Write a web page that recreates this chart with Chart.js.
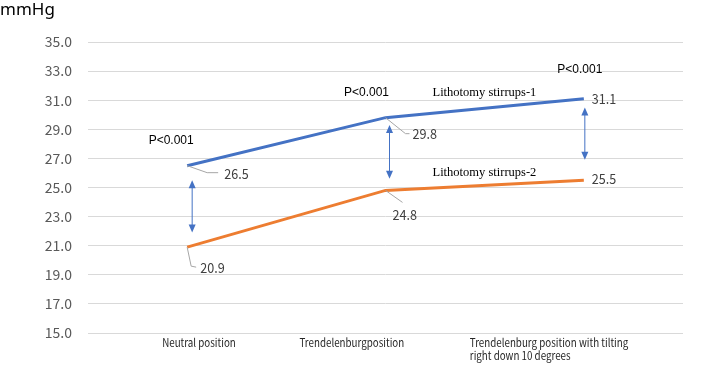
<!DOCTYPE html>
<html>
<head>
<meta charset="utf-8">
<script src="https://cdn.jsdelivr.net/npm/chart.js@4"></script>
<style>
  html, body { margin: 0; padding: 0; background: #fff; }
  #wrap { width: 708px; height: 368px; }
</style>
</head>
<body>
<div id="wrap"><canvas id="chart" width="708" height="368"></canvas></div>
<script>
var categories = ['Neutral position', 'Trendelenburgposition', ['Trendelenburg position with tilting', 'right down 10 degrees']];
var seriesNames = ['Lithotomy stirrups-1', 'Lithotomy stirrups-2'];
var stirrups1 = [26.5, 29.8, 31.1];
var stirrups2 = [20.9, 24.8, 25.5];
var arrowTop = [25.5, 29.3, 30.5];
var arrowBottom = [21.9, 25.6, 26.9];
var pValues = ['P<0.001', 'P<0.001', 'P<0.001'];
var yMin = 15, yMax = 35, yStep = 2;
var unitLabel = 'mmHg';

var BLUE = '#4472C4';
var ORANGE = '#ED7D31';
var JP = '"Noto Sans CJK JP", "Noto Sans", sans-serif';

// leader lines + label offsets (px from the point) for each series / category
var leaders = [
    [ { path: [[0,0],[20,7],[31,7]], lx: 37, ly: 8 },
      { path: [[0,0],[20,16],[24,16]], lx: 27, ly: 16 },
      { path: null, lx: 8, ly: 0 } ],
    [ { path: [[0,0],[4,19],[9,20]], lx: 13, ly: 21 },
      { path: [[0,0],[17,12]], lx: 7, ly: 24 },
      { path: null, lx: 8, ly: -2 } ]
];

function arrowHead(ctx, x, y, dir) {
    ctx.beginPath();
    ctx.moveTo(x, y);
    ctx.lineTo(x - 3.5, y - dir * 8);
    ctx.lineTo(x + 3.5, y - dir * 8);
    ctx.closePath();
    ctx.fill();
}

// draw text squeezed horizontally (source font is narrower than ours)
function narrowText(ctx, txt, x, y, sx) {
    ctx.save();
    ctx.translate(x, y);
    ctx.scale(sx, 1);
    ctx.fillText(txt, 0, 0);
    ctx.restore();
}

var annotations = {
    id: 'annotations',
    afterDatasetsDraw: function(chart) {
        var ctx = chart.ctx;
        var xs = chart.scales.x, ys = chart.scales.y;
        ctx.save();

        // data labels with leader lines
        ctx.font = '14px ' + JP;
        ctx.fillStyle = '#404040';
        ctx.textBaseline = 'middle';
        ctx.textAlign = 'left';
        [stirrups1, stirrups2].forEach(function(series, i) {
            var meta = chart.getDatasetMeta(i);
            series.forEach(function(v, j) {
                var pt = meta.data[j];
                var L = leaders[i][j];
                if (L.path) {
                    ctx.strokeStyle = '#A6A6A6';
                    ctx.lineWidth = 1;
                    ctx.beginPath();
                    L.path.forEach(function(p, k) {
                        if (k === 0) ctx.moveTo(pt.x + p[0], pt.y + p[1]);
                        else ctx.lineTo(pt.x + p[0], pt.y + p[1]);
                    });
                    ctx.stroke();
                }
                narrowText(ctx, v.toFixed(1), pt.x + L.lx, pt.y + L.ly, 0.9);
            });
        });

        // double arrows
        var dx = [5, 4, 1];
        ctx.strokeStyle = BLUE;
        ctx.fillStyle = BLUE;
        ctx.lineWidth = 1;
        arrowTop.forEach(function(t, j) {
            var x = xs.getPixelForValue(j) + dx[j];
            var y1 = ys.getPixelForValue(t);
            var y2 = ys.getPixelForValue(arrowBottom[j]);
            ctx.beginPath();
            ctx.moveTo(x, y1 + 4);
            ctx.lineTo(x, y2 - 4);
            ctx.stroke();
            arrowHead(ctx, x, y1, -1);
            arrowHead(ctx, x, y2, 1);
        });

        // p values
        var pOff = [[-16, -40], [-19, -32], [-4, -38]];
        ctx.fillStyle = '#000';
        ctx.font = '12px "Liberation Sans", Arial, sans-serif';
        ctx.textAlign = 'center';
        pValues.forEach(function(p, j) {
            var x = xs.getPixelForValue(j) + pOff[j][0];
            var y = ys.getPixelForValue(arrowTop[j]) + pOff[j][1];
            ctx.fillText(p, x, y);
        });

        // series names
        ctx.font = '12.5px "Liberation Serif", "Times New Roman", serif';
        ctx.textAlign = 'left';
        var p1 = chart.getDatasetMeta(0).data[1];
        var p2 = chart.getDatasetMeta(1).data[1];
        ctx.fillText(seriesNames[0], p1.x + 47, p1.y - 25);
        ctx.fillText(seriesNames[1], p2.x + 47, p2.y - 18);

        // category labels
        var cOff = [-25, -86, -114];
        ctx.font = '11.5px ' + JP;
        ctx.fillStyle = '#262626';
        categories.forEach(function(c, j) {
            var lines = Array.isArray(c) ? c : [c];
            var x = xs.getPixelForValue(j) + cOff[j];
            lines.forEach(function(line, k) {
                narrowText(ctx, line, x, xs.top + 10 + k * 13, 0.85);
            });
        });

        // unit label
        ctx.font = '17px "Noto Sans", sans-serif';
        ctx.fillStyle = '#000';
        ctx.fillText(unitLabel, 0, 10);
        ctx.restore();
    }
};

var config = {
    type: 'line',
    data: {
        labels: categories,
        datasets: [{
            label: seriesNames[0],
            data: stirrups1,
            borderColor: BLUE,
            borderWidth: 3,
            pointRadius: 0,
            tension: 0
        }, {
            label: seriesNames[1],
            data: stirrups2,
            borderColor: ORANGE,
            borderWidth: 3,
            pointRadius: 0,
            tension: 0
        }]
    },
    options: {
        responsive: false,
        animation: false,
        devicePixelRatio: 1,
        layout: { padding: { top: 42, right: 25, left: 0, bottom: 0 } },
        plugins: {
            legend: { display: false },
            tooltip: { enabled: false }
        },
        scales: {
            x: {
                offset: true,
                grid: { display: false },
                border: { display: false },
                ticks: { display: false },
                afterFit: function(scale) { scale.height = 35; }
            },
            y: {
                min: yMin,
                max: yMax,
                grid: { color: '#D9D9D9', lineWidth: 1, drawTicks: false },
                border: { display: false },
                ticks: {
                    stepSize: yStep,
                    padding: 16,
                    color: '#595959',
                    font: { family: JP, size: 14 },
                    callback: function(v) { return v.toFixed(1); }
                },
                afterFit: function(scale) { scale.width = 88; }
            }
        }
    },
    plugins: [annotations]
};

var ctx = document.getElementById('chart');
window.myChart = new Chart(ctx, config);
</script>
</body>
</html>
